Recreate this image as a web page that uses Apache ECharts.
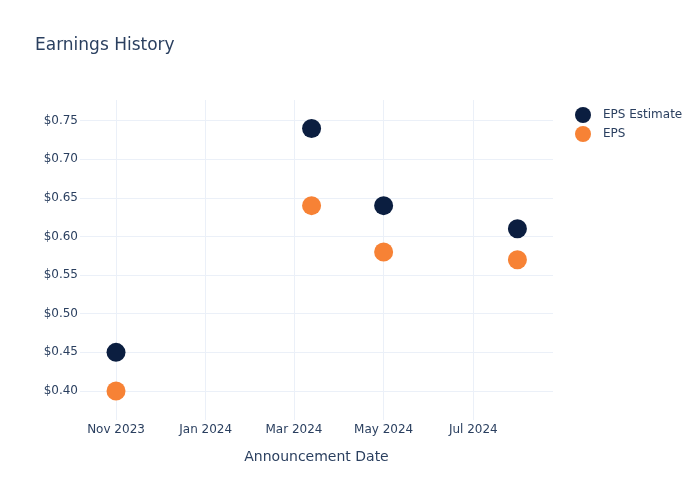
<!DOCTYPE html>
<html>
<head>
<meta charset="utf-8">
<script src="https://cdn.jsdelivr.net/npm/echarts@6/dist/echarts.min.js"></script>
<style>html,body{margin:0;padding:0;background:#fff}#c{width:700px;height:500px}</style>
</head>
<body>
<div id="c"></div>
<script>
const dates = ['2023-11-01', '2024-03-13', '2024-05-01', '2024-07-31'];
const epsEstimate = [0.45, 0.74, 0.64, 0.61];
const eps = [0.40, 0.64, 0.58, 0.57];
const xTicks = ['2023-11-01', '2024-01-01', '2024-03-01', '2024-05-01', '2024-07-01'];
const yTicks = [0.40, 0.45, 0.50, 0.55, 0.60, 0.65, 0.70, 0.75];
const monthNames = ['Jan','Feb','Mar','Apr','May','Jun','Jul','Aug','Sep','Oct','Nov','Dec'];

const ts = s => { const p = s.split('-').map(Number); return Date.UTC(p[0], p[1]-1, p[2]); };
const DAY = 86400000;
const xMin = ts('2023-11-01') - 24.5 * DAY;
const xMax = ts('2024-07-01') + 54.2 * DAY;
const textColor = '#2a3f5f';
const gridColor = '#ebf0f8';
const font = 'DejaVu Sans';

const chart = echarts.init(document.getElementById('c'), null, {renderer: 'canvas'});
chart.setOption({
  animation: false,
  backgroundColor: '#fff',
  textStyle: {fontFamily: font, color: textColor},
  title: {
    text: 'Earnings History', left: 35, top: 37, padding: 0,
    textStyle: {fontFamily: font, fontSize: 17, fontWeight: 'normal', color: textColor}
  },
  legend: {
    orient: 'vertical', left: 575, top: 107, padding: 0, itemGap: 3,
    itemWidth: 16, itemHeight: 16, icon: 'circle',
    textStyle: {fontFamily: font, fontSize: 12, color: textColor, padding: [0, 0, 0, 7]},
    data: ['EPS Estimate', 'EPS']
  },
  grid: {left: 80, right: 147, top: 100, bottom: 80, containLabel: false},
  xAxis: {
    type: 'value', min: xMin, max: xMax,
    name: 'Announcement Date', nameLocation: 'middle', nameGap: 30,
    nameTextStyle: {fontFamily: font, fontSize: 14, color: textColor},
    axisLine: {show: false},
    axisTick: {show: false, customValues: xTicks.map(ts)},
    axisLabel: {
      customValues: xTicks.map(ts), margin: 4,
      fontFamily: font, fontSize: 12, color: textColor,
      formatter: v => { const d = new Date(v); return monthNames[d.getUTCMonth()] + ' ' + d.getUTCFullYear(); }
    },
    splitLine: {show: true, lineStyle: {color: gridColor, width: 1}}
  },
  yAxis: {
    type: 'value', min: 0.3624, max: 0.7768,
    axisLine: {show: false},
    axisTick: {show: false, customValues: yTicks},
    axisLabel: {
      customValues: yTicks, margin: 2,
      fontFamily: font, fontSize: 12, color: textColor,
      formatter: v => '$' + v.toFixed(2)
    },
    splitLine: {show: true, lineStyle: {color: gridColor, width: 1}}
  },
  series: [
    {
      name: 'EPS Estimate', type: 'scatter', symbolSize: 19,
      itemStyle: {color: '#0b1e40', opacity: 1},
      data: dates.map((d, i) => [ts(d), epsEstimate[i]])
    },
    {
      name: 'EPS', type: 'scatter', symbolSize: 19,
      itemStyle: {color: '#f78235', opacity: 1},
      data: dates.map((d, i) => [ts(d), eps[i]])
    }
  ]
});
</script>
</body>
</html>
